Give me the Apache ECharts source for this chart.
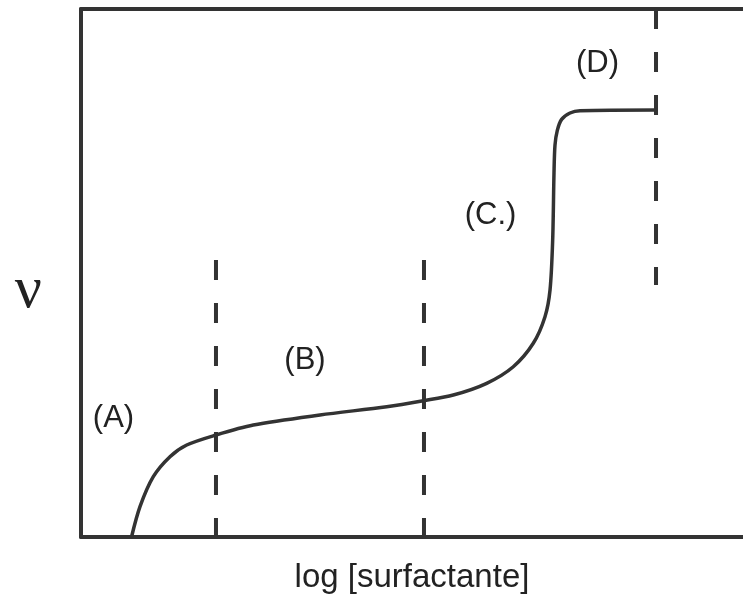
<!DOCTYPE html>
<html>
<head>
<meta charset="utf-8">
<script src="https://cdn.jsdelivr.net/npm/echarts@6/dist/echarts.min.js"></script>
<style>
html,body{margin:0;padding:0;background:#fff;}
#chart{width:743px;height:595px;}
</style>
</head>
<body>
<div id="chart"></div>
<script>
// Curve (arbitrary units: x 0-100, y 0-100)
var curveX = [7.63, 8.91, 10.92, 13.44, 15.97, 20.39, 26.03, 36.10, 46.18, 51.71, 56.24, 61.28, 65.30, 68.32, 70.09, 70.85, 71.25, 71.45, 71.60, 71.95, 72.60, 73.87, 75.38, 86.86];
var curveY = [0, 5.74, 11.42, 15.21, 17.42, 19.32, 21.21, 23.11, 24.68, 25.81, 26.89, 29.11, 32.25, 36.69, 41.72, 46.78, 56.25, 68.94, 74.20, 77.00, 79.10, 80.30, 80.74, 80.87];

// Vertical dashed boundaries: x, top, bottom
var boundX = [20.39, 51.81, 86.86];
var boundTop = [52.46, 52.46, 100];
var boundBottom = [0, 0, 47.73];

// Region labels
var regionLabels = ['(A)', '(B)', '(C.)', '(D)'];
var regionX = [4.91, 33.84, 61.86, 78.02];
var regionY = [22.44, 33.43, 60.89, 89.68];

var xTitle = 'log [surfactante]';
var yTitle = 'ν';

var ink = '#333333';
var chart = echarts.init(document.getElementById('chart'));

var series = [];
series.push({
  type: 'line',
  data: curveX.map(function (x, i) { return [x, curveY[i]]; }),
  smooth: 0.3,
  showSymbol: false,
  symbol: 'none',
  lineStyle: { color: ink, width: 3.5 },
  silent: true,
  z: 3
});
boundX.forEach(function (x, i) {
  series.push({
    type: 'line',
    data: [[x, boundTop[i]], [x, boundBottom[i]]],
    showSymbol: false,
    symbol: 'none',
    lineStyle: { color: ink, width: 4, type: [20, 23] },
    silent: true,
    z: 2
  });
});
series.push({
  type: 'scatter',
  data: regionX.map(function (x, i) { return [x, regionY[i], regionLabels[i]]; }),
  symbolSize: 0,
  silent: true,
  itemStyle: { opacity: 1 },
  label: {
    show: true,
    position: 'inside',
    formatter: function (p) { return p.data[2]; },
    color: '#222',
    opacity: 1,
    fontFamily: 'Liberation Sans, Arial, sans-serif',
    fontSize: 31,
    align: 'center',
    verticalAlign: 'middle'
  }
});

chart.setOption({
  animation: false,
  backgroundColor: '#fff',
  grid: { left: 81, right: 0, top: 9, bottom: 58, containLabel: false, outerBoundsMode: 'none' },
  xAxis: [{
    type: 'value', min: 0, max: 100, position: 'bottom',
    axisLine: { show: true, lineStyle: { color: ink, width: 4 } },
    axisTick: { show: false }, axisLabel: { show: false }, splitLine: { show: false },
    name: xTitle, nameLocation: 'middle', nameGap: 24,
    nameTextStyle: { color: '#222', fontSize: 33, fontFamily: 'Liberation Sans, Arial, sans-serif' }
  }, {
    type: 'value', min: 0, max: 100, position: 'top',
    axisLine: { show: true, lineStyle: { color: ink, width: 4 } },
    axisTick: { show: false }, axisLabel: { show: false }, splitLine: { show: false }
  }],
  yAxis: [{
    type: 'value', min: 0, max: 100,
    axisLine: { show: true, lineStyle: { color: ink, width: 4 } },
    axisTick: { show: false }, axisLabel: { show: false }, splitLine: { show: false },
    name: yTitle, nameLocation: 'middle', nameGap: 39, nameRotate: 0,
    nameTextStyle: { color: '#222', fontSize: 60, lineHeight: 36, verticalAlign: 'top', fontFamily: 'Liberation Serif, Times New Roman, serif' }
  }],
  series: series
});
</script>
</body>
</html>
